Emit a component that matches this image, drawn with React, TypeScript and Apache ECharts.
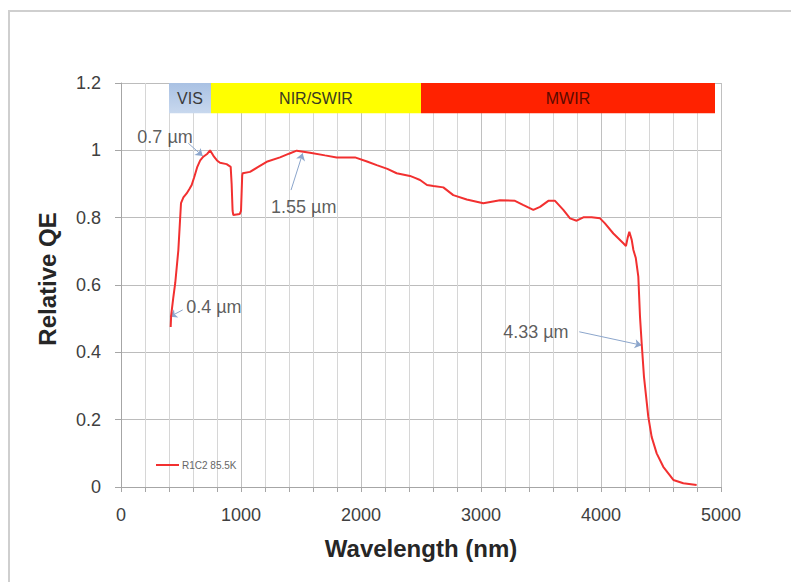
import React, { useEffect, useRef } from "react";
import * as echarts from "echarts";

// Measured spectral response (wavelength nm, relative QE)
const wavelengths = [414, 418, 435, 452, 478, 490, 500, 520, 547, 570, 589, 610, 636, 660, 686, 720, 742, 760, 775, 800, 825, 880, 914, 922, 930, 936, 990, 1000, 1010, 1014, 1075, 1140, 1214, 1325, 1400, 1464, 1575, 1700, 1797, 1950, 2050, 2131, 2220, 2297, 2408, 2450, 2492, 2550, 2603, 2686, 2769, 2881, 3019, 3158, 3283, 3350, 3436, 3492, 3561, 3617, 3686, 3742, 3797, 3853, 3922, 3992, 4033, 4103, 4186, 4208, 4222, 4236, 4256, 4270, 4290, 4311, 4325, 4339, 4358, 4394, 4422, 4464, 4519, 4603, 4686, 4797];
const qe = [0.475, 0.51, 0.56, 0.606, 0.704, 0.78, 0.843, 0.86, 0.872, 0.885, 0.897, 0.92, 0.951, 0.97, 0.981, 0.99, 1.0, 0.99, 0.981, 0.97, 0.963, 0.959, 0.951, 0.9, 0.82, 0.808, 0.811, 0.82, 0.925, 0.932, 0.936, 0.95, 0.966, 0.979, 0.99, 0.999, 0.993, 0.985, 0.979, 0.979, 0.967, 0.956, 0.945, 0.932, 0.924, 0.918, 0.912, 0.897, 0.894, 0.89, 0.867, 0.854, 0.843, 0.852, 0.85, 0.838, 0.823, 0.832, 0.85, 0.85, 0.823, 0.798, 0.791, 0.801, 0.801, 0.798, 0.783, 0.753, 0.724, 0.716, 0.74, 0.758, 0.734, 0.704, 0.68, 0.625, 0.506, 0.427, 0.328, 0.209, 0.149, 0.1, 0.06, 0.021, 0.011, 0.006];

const seriesName = "R1C2 85.5K";

// Spectral bands (top strip)
const bandNames = ["VIS", "NIR/SWIR", "MWIR"];
const bandStart = [400, 750, 2500];
const bandEnd = [750, 2500, 4950];
const bandBottom = 1.11;
const bandTop = 1.2;

// Annotations: text position, arrow start, arrow end (data coords)
const annoText = ["0.7 µm", "1.55 µm", "0.4 µm", "4.33 µm"];
const annoTextX = [367, 1523, 774, 3457];
const annoTextY = [1.041, 0.831, 0.535, 0.461];
const arrowFromX = [561, 1417, 514, 3819];
const arrowFromY = [1.021, 0.882, 0.526, 0.461];
const arrowToX = [681, 1514, 408, 4339];
const arrowToY = [0.983, 0.991, 0.506, 0.421];

const xTicks = { min: 0, max: 5000, interval: 1000 };
const yTicks = { min: 0, max: 1.2, interval: 0.2 };

const FONT = "'Liberation Sans', Arial, sans-serif";

export default function App() {
  const ref = useRef<HTMLDivElement>(null);

  useEffect(() => {
    if (!ref.current) return;
    const chart = echarts.init(ref.current, null, { renderer: "svg" });

    const bandFill: any[] = [
      new echarts.graphic.LinearGradient(0, 0, 0, 1, [
        { offset: 0, color: "#a9c1e3" },
        { offset: 1, color: "#c8d8ee" },
      ]),
      "#ffff00",
      "#ff2200",
    ];
    const bandLabelColor = ["#3a3a3a", "#3a3a20", "#5a0a00"];

    const lineData = wavelengths.map((w, i) => [w, qe[i]]);
    const bandData = bandNames.map((n, i) => [
      {
        name: n,
        xAxis: bandStart[i],
        yAxis: bandBottom,
        itemStyle: { color: bandFill[i], opacity: 1 },
        label: { color: bandLabelColor[i] },
      },
      { xAxis: bandEnd[i], yAxis: bandTop },
    ]);
    const arrowData = annoText.map((_, i) => [
      { coord: [arrowFromX[i], arrowFromY[i]], symbol: "none" },
      { coord: [arrowToX[i], arrowToY[i]], symbol: "arrow" },
    ]);
    const textData = annoText.map((t, i) => [annoTextX[i], annoTextY[i], t]);

    chart.setOption({
      animation: false,
      backgroundColor: "#ffffff",
      textStyle: { fontFamily: FONT },
      grid: { left: 121, right: 70, top: 83, bottom: 95, containLabel: false },
      legend: {
        data: [seriesName],
        left: 151,
        top: 455,
        icon: "rect",
        itemWidth: 23,
        itemHeight: 2,
        itemGap: 4,
        textStyle: { fontSize: 10, color: "#666", fontFamily: FONT, padding: [0, 0, 0, -2] },
      },
      xAxis: {
        type: "value",
        min: xTicks.min,
        max: xTicks.max,
        interval: xTicks.interval,
        axisLine: { show: true, onZero: false, lineStyle: { color: "#a6a6a6", width: 1 } },
        axisTick: { show: true, length: 5, lineStyle: { color: "#a6a6a6" } },
        minorTick: { show: true, splitNumber: 5, length: 5, lineStyle: { color: "#a6a6a6" } },
        splitLine: { show: true, lineStyle: { color: "#c0c0c0", width: 1 } },
        minorSplitLine: { show: true, lineStyle: { color: "#d6d6d6", width: 1 } },
        axisLabel: {
          fontSize: 18,
          color: "#404040",
          margin: 19,
          fontFamily: FONT,
          formatter: (v: number) => String(v),
        },
      },
      yAxis: {
        type: "value",
        min: yTicks.min,
        max: yTicks.max,
        interval: yTicks.interval,
        axisLine: { show: true, lineStyle: { color: "#a6a6a6", width: 1 } },
        axisTick: { show: true, length: 6, lineStyle: { color: "#a6a6a6" } },
        splitLine: { show: true, lineStyle: { color: "#bcbcbc", width: 1 } },
        axisLabel: {
          fontSize: 18,
          color: "#404040",
          margin: 20,
          fontFamily: FONT,
          formatter: (v: number) => String(Math.round(v * 10) / 10),
        },
      },
      series: [
        {
          name: seriesName,
          type: "line",
          data: lineData,
          showSymbol: false,
          symbol: "none",
          smooth: false,
          lineStyle: { color: "#f23030", width: 2 },
          itemStyle: { color: "#f23030" },
          z: 5,
          markArea: {
            silent: true,
            z: 1,
            label: {
              show: true,
              position: "inside",
              fontSize: 16,
              fontFamily: FONT,
            },
            data: bandData,
          },
        },
        {
          name: "annotations",
          type: "scatter",
          data: textData,
          symbolSize: 0,
          silent: true,
          z: 6,
          label: {
            show: true,
            position: "inside",
            formatter: (p: any) => p.data[2],
            fontSize: 18,
            color: "#333333",
            fontFamily: FONT,
          },
          markLine: {
            silent: true,
            animation: false,
            symbolSize: 7,
            label: { show: false },
            lineStyle: { color: "#8ca6cc", width: 1, type: "solid" },
            data: arrowData,
          },
        },
      ],
      graphic: [
        {
          type: "rect",
          shape: { x: 9, y: 11, width: 800, height: 600 },
          style: { fill: "none", stroke: "#cfcfcf", lineWidth: 2 },
          silent: true,
          z: 0,
        },
        {
          type: "text",
          x: 47,
          y: 279,
          rotation: Math.PI / 2,
          style: {
            text: "Relative QE",
            font: `bold 24px ${FONT}`,
            fill: "#262626",
            align: "center",
            verticalAlign: "middle",
          },
          silent: true,
        },
        {
          type: "text",
          x: 421,
          y: 548,
          style: {
            text: "Wavelength (nm)",
            font: `bold 24px ${FONT}`,
            fill: "#262626",
            align: "center",
            verticalAlign: "middle",
          },
          silent: true,
        },
      ],
    });

    return () => chart.dispose();
  }, []);

  return (
    <div
      ref={ref}
      style={{ position: "absolute", left: 0, top: 0, width: 791, height: 582 }}
    />
  );
}
